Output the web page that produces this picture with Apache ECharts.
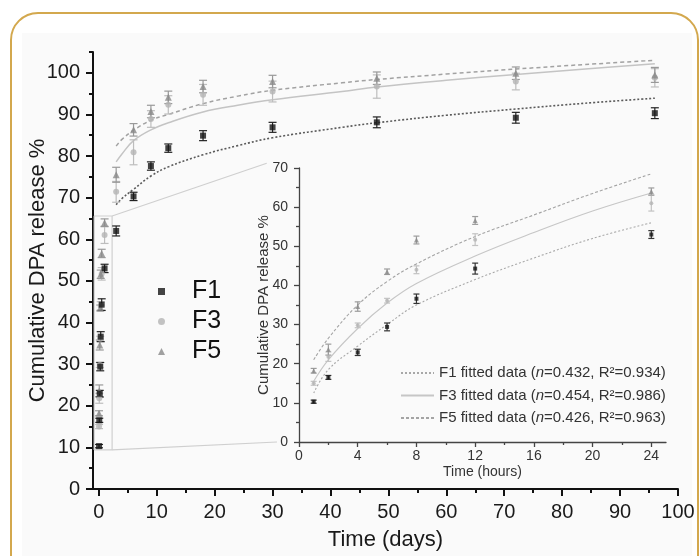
<!DOCTYPE html>
<html>
<head>
<meta charset="utf-8">
<script src="https://cdn.jsdelivr.net/npm/echarts@6/dist/echarts.min.js"></script>
<style>
  html, body { margin: 0; padding: 0; background: #fff; }
  #wrap { position: relative; width: 700px; height: 556px; overflow: hidden; }
  #frame { position: absolute; left: 10px; top: 12px; width: 689px; height: 600px;
           border: 2.5px solid #d3a84e; border-radius: 28px; box-sizing: border-box; }
  #paper { position: absolute; left: 22px; top: 33px; width: 670px; height: 523px; background: #fafafa; }
  #chart { position: absolute; left: 0; top: 0; width: 700px; height: 556px; }
</style>
</head>
<body>
<div id="wrap">
  <div id="frame"></div>
  <div id="paper"></div>
  <div id="chart"></div>
</div>
<script>
// inset: first 24 h (hours)
var hours = [1, 2, 4, 6, 8, 12, 24];
var f1Hours = [10.3, 16.5, 22.9, 29.4, 36.6, 44.3, 53.0];
var f3Hours = [15.0, 21.8, 29.8, 36.1, 44.0, 51.7, 61.0];
var f5Hours = [18.2, 23.6, 34.6, 43.5, 51.6, 56.6, 64.0];
var f1HoursErr = [0.4, 0.5, 0.8, 1.0, 1.2, 1.4, 1.0];
var f3HoursErr = [0.5, 1.2, 0.6, 0.6, 1.0, 1.5, 2.0];
var f5HoursErr = [0.6, 1.4, 1.2, 0.7, 1.0, 1.0, 0.9];

// main chart: days
var days = [3, 6, 9, 12, 18, 30, 48, 72, 96];
var f1Days = [62.0, 70.3, 77.6, 81.9, 84.9, 86.9, 88.1, 89.2, 90.3];
var f3Days = [71.4, 80.9, 88.9, 92.3, 94.7, 95.5, 96.7, 97.9, 98.8];
var f5Days = [75.5, 86.3, 90.7, 94.1, 96.7, 97.9, 98.7, 99.9, 99.5];
var f1DaysErr = [1.2, 1.0, 1.0, 1.0, 1.2, 1.2, 1.3, 1.3, 1.3];
var f3DaysErr = [2.5, 3.0, 2.0, 2.2, 2.5, 2.5, 2.8, 2.0, 2.2];
var f5DaysErr = [1.8, 1.5, 1.5, 1.5, 1.5, 1.5, 1.5, 1.5, 1.8];

// fitted curves
var fitDays = [3, 4, 6, 9, 12, 18, 24, 30, 42, 48, 60, 72, 84, 96];
var f1FitDays = [68.3, 69.8, 72.0, 75.2, 77.4, 80.3, 82.5, 84.4, 86.9, 88.0, 89.8, 91.3, 92.7, 93.9];
var f3FitDays = [78.6, 80.5, 83.7, 86.3, 88.0, 90.6, 92.2, 93.5, 95.5, 96.6, 98.2, 99.6, 100.9, 102.2];
var f5FitDays = [82.4, 84.0, 86.2, 88.6, 90.0, 92.6, 94.4, 95.8, 97.6, 98.4, 99.7, 100.9, 102.0, 103.0];

var fitHours = [1, 2, 4, 6, 8, 12, 16, 20, 24];
var f1FitHours = [12.5, 18.5, 24.5, 30.0, 35.0, 41.5, 47.0, 52.0, 56.0];
var f3FitHours = [15.5, 21.0, 29.0, 35.5, 40.5, 47.5, 53.5, 59.0, 63.6];
var f5FitHours = [21.0, 26.5, 35.0, 41.0, 45.5, 52.5, 58.0, 63.5, 68.5];

var fitNames = ['F1 fitted data', 'F3 fitted data', 'F5 fitted data'];
var fitN = ['0.432', '0.454', '0.426'];
var fitR2 = ['0.934', '0.986', '0.963'];

// ticks
var mainXTicks = [0, 10, 20, 30, 40, 50, 60, 70, 80, 90, 100];
var mainXMinor = [5, 15, 25, 35, 45, 55, 65, 75, 85, 95];
var mainYTicks = [0, 10, 20, 30, 40, 50, 60, 70, 80, 90, 100];
var mainYMinor = [5, 15, 25, 35, 45, 55, 65, 75, 85, 95, 105];
var insetXTicks = [0, 4, 8, 12, 16, 20, 24];
var insetXMinor = [2, 6, 10, 14, 18, 22];
var insetYTicks = [0, 10, 20, 30, 40, 50, 60, 70];
var insetYMinor = [5, 15, 25, 35, 45, 55, 65];

// zoomed region marked on the main chart
var zoomBoxDays = [-0.8, 2.3];
var zoomBoxPct = [9.4, 65.6];

var FONT = '"Liberation Sans", Arial, sans-serif';
var C1 = '#151515', C3 = '#b4b4b4', C5 = '#8a8a8a';

function pts(xs, ys, scale) {
    var out = [];
    for (var i = 0; i < xs.length; i++) out.push([xs[i] / scale, ys[i]]);
    return out;
}
function errPts(xs, ys, es, scale) {
    var out = [];
    for (var i = 0; i < xs.length; i++) out.push([xs[i] / scale, ys[i], es[i]]);
    return out;
}

function errorBars(name, data, xIdx, yIdx, color, capW, z) {
    return {
        name: name, type: 'custom', xAxisIndex: xIdx, yAxisIndex: yIdx, z: z,
        data: data, silent: true,
        renderItem: function (params, api) {
            var x = api.value(0), y = api.value(1), e = api.value(2);
            var top = api.coord([x, y + e]), bot = api.coord([x, y - e]);
            var st = { stroke: color, lineWidth: 1.2 };
            return {
                type: 'group', children: [
                    { type: 'line', shape: { x1: top[0], y1: top[1], x2: bot[0], y2: bot[1] }, style: st },
                    { type: 'line', shape: { x1: top[0] - capW, y1: top[1], x2: top[0] + capW, y2: top[1] }, style: st },
                    { type: 'line', shape: { x1: bot[0] - capW, y1: bot[1], x2: bot[0] + capW, y2: bot[1] }, style: st }
                ]
            };
        }
    };
}

function axis(grid, pos, min, max, vals, tickLen, opt) {
    var a = {
        type: 'value', gridIndex: grid, position: pos, min: min, max: max,
        axisLine: { show: !!opt.line, onZero: false, lineStyle: { color: opt.color, width: opt.lw } },
        axisTick: { show: true, length: tickLen, customValues: vals, lineStyle: { color: opt.color, width: opt.lw } },
        axisLabel: { show: !!opt.labels, customValues: vals, margin: opt.margin, color: opt.labelColor,
            fontSize: opt.fontSize, fontFamily: FONT },
        splitLine: { show: false }
    };
    if (opt.name) {
        a.name = opt.name;
        a.nameLocation = 'middle';
        a.nameGap = opt.nameGap;
        a.nameMoveOverlap = false;
        a.nameTextStyle = { fontSize: opt.nameSize, fontFamily: FONT, color: opt.labelColor };
    }
    return a;
}

var mainX = [-1, 100], mainY = [0, 105];
var insetX = [0, 25], insetY = [0, 70];

var chart = echarts.init(document.getElementById('chart'), null, { renderer: 'canvas' });

var richLegend = {
    i: { fontStyle: 'italic', fontSize: 15, fontFamily: FONT, color: '#333' }
};

var options = {
    backgroundColor: 'transparent',
    animation: false,
    grid: [
        { left: 93, top: 52, width: 585, height: 437 },
        { left: 299, top: 168, width: 367, height: 274 }
    ],
    xAxis: [
        axis(0, 'bottom', mainX[0], mainX[1], mainXTicks, 7, { line: true, labels: true, color: '#111', lw: 2, margin: 13,
            labelColor: '#1a1a1a', fontSize: 20, name: 'Time (days)', nameGap: 40, nameSize: 22 }),
        axis(0, 'bottom', mainX[0], mainX[1], mainXMinor, 4, { color: '#111', lw: 2 }),
        axis(1, 'bottom', insetX[0], insetX[1], insetXTicks, 5, { line: true, labels: true, color: '#444', lw: 1.3, margin: 7,
            labelColor: '#333', fontSize: 14, name: 'Time (hours)', nameGap: 23, nameSize: 14 }),
        axis(1, 'bottom', insetX[0], insetX[1], insetXMinor, 3, { color: '#444', lw: 1.3 })
    ],
    yAxis: [
        axis(0, 'left', mainY[0], mainY[1], mainYTicks, 7, { line: true, labels: true, color: '#111', lw: 2, margin: 13,
            labelColor: '#1a1a1a', fontSize: 20, name: 'Cumulative DPA release %', nameGap: 44, nameSize: 22 }),
        axis(0, 'left', mainY[0], mainY[1], mainYMinor, 4, { color: '#111', lw: 2 }),
        axis(1, 'left', insetY[0], insetY[1], insetYTicks, 5, { line: true, labels: true, color: '#444', lw: 1.3, margin: 11,
            labelColor: '#333', fontSize: 14, name: 'Cumulative DPA release %', nameGap: 28, nameSize: 15 }),
        axis(1, 'left', insetY[0], insetY[1], insetYMinor, 3, { color: '#444', lw: 1.3 })
    ],
    legend: [
        {
            data: [{ name: 'F1', icon: 'rect' }, { name: 'F3', icon: 'circle' }, { name: 'F5', icon: 'triangle' }],
            orient: 'vertical', left: 153, top: 274, itemWidth: 7, itemHeight: 7, itemGap: 5,
            selectedMode: false,
            textStyle: { fontSize: 25, lineHeight: 25, fontFamily: FONT, color: '#111', padding: [0, 0, 0, 22] }
        },
        {
            data: fitNames, orient: 'vertical', left: 395, top: 359, itemWidth: 33, itemHeight: 10, itemGap: 4.5,
            selectedMode: false,
            itemStyle: { opacity: 0 },
            formatter: function (name) {
                var i = fitNames.indexOf(name);
                return name.replace(' fitted data', '') + ' fitted data ({i|n}=' + fitN[i] + ', R²=' + fitR2[i] + ')';
            },
            textStyle: { fontSize: 15, lineHeight: 18, fontFamily: FONT, color: '#333', rich: richLegend }
        }
    ],
    series: []
};

var s = options.series;
// main chart scatter (hour points converted to days + day points)
s.push({ name: 'F3', type: 'scatter', xAxisIndex: 0, yAxisIndex: 0, symbol: 'circle', symbolSize: 6, z: 4,
    itemStyle: { color: C3 }, data: pts(hours, f3Hours, 24).concat(pts(days, f3Days, 1)) });
s.push({ name: 'F5', type: 'scatter', xAxisIndex: 0, yAxisIndex: 0, symbol: 'triangle', symbolSize: 7, z: 5,
    itemStyle: { color: C5 }, data: pts(hours, f5Hours, 24).concat(pts(days, f5Days, 1)) });
s.push({ name: 'F1', type: 'scatter', xAxisIndex: 0, yAxisIndex: 0, symbol: 'rect', symbolSize: 6, z: 6,
    itemStyle: { color: C1 }, data: pts(hours, f1Hours, 24).concat(pts(days, f1Days, 1)) });
s.push(errorBars('F3 err', errPts(hours, f3Hours, f3HoursErr, 24).concat(errPts(days, f3Days, f3DaysErr, 1)), 0, 0, '#bdbdbd', 4, 3));
s.push(errorBars('F5 err', errPts(hours, f5Hours, f5HoursErr, 24).concat(errPts(days, f5Days, f5DaysErr, 1)), 0, 0, '#999', 4, 3));
s.push(errorBars('F1 err', errPts(hours, f1Hours, f1HoursErr, 24).concat(errPts(days, f1Days, f1DaysErr, 1)), 0, 0, '#222', 4, 3));

// main chart fits
s.push({ name: 'F1 fit (days)', type: 'line', xAxisIndex: 0, yAxisIndex: 0, showSymbol: false, symbol: 'none', smooth: 0.4,
    lineStyle: { color: '#5a5a5a', width: 1.6, type: [2, 2] }, data: pts(fitDays, f1FitDays, 1), z: 2 });
s.push({ name: 'F3 fit (days)', type: 'line', xAxisIndex: 0, yAxisIndex: 0, showSymbol: false, symbol: 'none', smooth: 0.4,
    lineStyle: { color: '#c4c4c4', width: 1.5 }, data: pts(fitDays, f3FitDays, 1), z: 2 });
s.push({ name: 'F5 fit (days)', type: 'line', xAxisIndex: 0, yAxisIndex: 0, showSymbol: false, symbol: 'none', smooth: 0.4,
    lineStyle: { color: '#a2a2a2', width: 1.5, type: [4, 3] }, data: pts(fitDays, f5FitDays, 1), z: 2 });

// zoom box
s.push({ name: 'zoom box', type: 'line', xAxisIndex: 0, yAxisIndex: 0, showSymbol: false, symbol: 'none', silent: true, z: 1,
    lineStyle: { color: '#cfcfcf', width: 1.2 },
    data: [[zoomBoxDays[0], zoomBoxPct[0]], [zoomBoxDays[1], zoomBoxPct[0]], [zoomBoxDays[1], zoomBoxPct[1]],
           [zoomBoxDays[0], zoomBoxPct[1]], [zoomBoxDays[0], zoomBoxPct[0]]] });

// inset
s.push({ name: 'F3', type: 'scatter', xAxisIndex: 2, yAxisIndex: 2, symbol: 'circle', symbolSize: 4, z: 4,
    itemStyle: { color: C3 }, data: pts(hours, f3Hours, 1) });
s.push({ name: 'F5', type: 'scatter', xAxisIndex: 2, yAxisIndex: 2, symbol: 'triangle', symbolSize: 5, z: 5,
    itemStyle: { color: C5 }, data: pts(hours, f5Hours, 1) });
s.push({ name: 'F1', type: 'scatter', xAxisIndex: 2, yAxisIndex: 2, symbol: 'rect', symbolSize: 4, z: 6,
    itemStyle: { color: C1 }, data: pts(hours, f1Hours, 1) });
s.push(errorBars('F3 err h', errPts(hours, f3Hours, f3HoursErr, 1), 2, 2, '#c2c2c2', 3, 3));
s.push(errorBars('F5 err h', errPts(hours, f5Hours, f5HoursErr, 1), 2, 2, '#9c9c9c', 3, 3));
s.push(errorBars('F1 err h', errPts(hours, f1Hours, f1HoursErr, 1), 2, 2, '#333', 3, 3));
s.push({ name: fitNames[0], type: 'line', xAxisIndex: 2, yAxisIndex: 2, showSymbol: false, symbol: 'none', smooth: 0.4,
    itemStyle: { color: '#a8a8a8' },
    lineStyle: { color: '#a8a8a8', width: 1.1, type: [2, 2] }, data: pts(fitHours, f1FitHours, 1), z: 2 });
s.push({ name: fitNames[1], type: 'line', xAxisIndex: 2, yAxisIndex: 2, showSymbol: false, symbol: 'none', smooth: 0.4,
    itemStyle: { color: '#c6c6c6' },
    lineStyle: { color: '#c6c6c6', width: 1.1 }, data: pts(fitHours, f3FitHours, 1), z: 2 });
s.push({ name: fitNames[2], type: 'line', xAxisIndex: 2, yAxisIndex: 2, showSymbol: false, symbol: 'none', smooth: 0.4,
    itemStyle: { color: '#a4a4a4' },
    lineStyle: { color: '#a4a4a4', width: 1.1, type: [3, 2] }, data: pts(fitHours, f5FitHours, 1), z: 2 });

chart.setOption(options);

// connector lines from the zoom box to the inset
var boxTop = chart.convertToPixel({ xAxisIndex: 0, yAxisIndex: 0 }, [zoomBoxDays[1], zoomBoxPct[1]]);
var boxBot = chart.convertToPixel({ xAxisIndex: 0, yAxisIndex: 0 }, [zoomBoxDays[1], zoomBoxPct[0]]);
var inTop = chart.convertToPixel({ xAxisIndex: 2, yAxisIndex: 2 }, [-2.2, 71.2]);
var inBot = chart.convertToPixel({ xAxisIndex: 2, yAxisIndex: 2 }, [-1.5, 0]);
chart.setOption({
    graphic: [
        { type: 'line', silent: true, z: 1, shape: { x1: boxTop[0], y1: boxTop[1], x2: inTop[0], y2: inTop[1] },
          style: { stroke: '#cfcfcf', lineWidth: 1.2 } },
        { type: 'line', silent: true, z: 1, shape: { x1: boxBot[0], y1: boxBot[1], x2: inBot[0], y2: inBot[1] },
          style: { stroke: '#cfcfcf', lineWidth: 1.2 } }
    ]
});
</script>
</body>
</html>
